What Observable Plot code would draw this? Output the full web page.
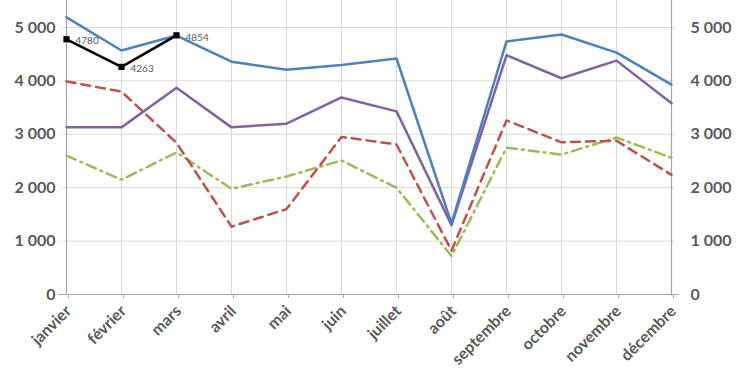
<!DOCTYPE html>
<html><head><meta charset="utf-8">
<script src="https://cdn.jsdelivr.net/npm/d3@7"></script>
<script src="https://cdn.jsdelivr.net/npm/@observablehq/plot@0.6"></script>
<style>body{margin:0;background:#fff}</style>
</head><body><div id="chart"></div>
<script>
const months = ["janvier","février","mars","avril","mai","juin","juillet","août","septembre","octobre","novembre","décembre"];
const blueVals = [5190,4570,4850,4360,4210,4300,4420,1330,4740,4870,4530,3930];
const purpleVals = [3130,3130,3870,3130,3200,3690,3430,1300,4480,4050,4380,3580];
const redVals = [3990,3800,2840,1270,1600,2950,2810,820,3260,2850,2880,2240];
const greenVals = [2600,2150,2660,1980,2210,2510,2000,720,2750,2620,2940,2560];
const blackMonths = ["janvier","février","mars"];
const blackVals = [4780,4263,4854];
const yTicks = [0,1000,2000,3000,4000,5000];
const yTickLabels = ["0","1 000","2 000","3 000","4 000","5 000"];

const toRows = vals => months.map((m,i)=>({m, v: vals[i]}));
const blackRows = blackMonths.map((m,i)=>({m, v: blackVals[i]}));
const fmt = d => yTickLabels[yTicks.indexOf(d)];
const font = "Lato, 'Liberation Sans', sans-serif";

const chart = Plot.plot({
  width: 750, height: 375,
  marginLeft: 63, marginRight: 76, marginTop: 0, marginBottom: 81,
  style: {fontFamily: font, background: "#fff"},
  x: {type: "point", domain: months, padding: 0},
  y: {domain: [0, 5506]},
  marks: [
    Plot.gridY(yTicks, {stroke: "#d9d9d9", strokeOpacity: 1}),
    Plot.gridX(months, {stroke: "#d9d9d9", strokeOpacity: 1}),
    Plot.ruleX([months[0], months[11]], {stroke: "#a6a6a6", strokeWidth: 1.2}),
    Plot.ruleY([0], {stroke: "#a6a6a6", strokeWidth: 1.2, insetLeft: -5, insetRight: -5}),
    Plot.axisY(yTicks, {anchor: "left", tickFormat: fmt, tickSize: 0, tickPadding: 8, fontSize: 16, fontWeight: "bold", fill: "#595959", label: null}),
    Plot.axisY(yTicks, {anchor: "right", tickFormat: fmt, tickSize: 0, tickPadding: 16, fontSize: 16, fontWeight: "bold", fill: "#595959", label: null}),
    Plot.axisX(months, {anchor: "bottom", tickSize: 4, stroke: "#a6a6a6", tickRotate: -45, tickPadding: 10, dx: 2, fontSize: 16, fontWeight: "bold", fill: "#595959", label: null}),
    Plot.line(toRows(greenVals), {x: "m", y: "v", stroke: "#9bbb59", strokeWidth: 2.5, strokeDasharray: "10,5,2,5"}),
    Plot.line(toRows(redVals), {x: "m", y: "v", stroke: "#c0504d", strokeWidth: 2.5, strokeDasharray: "9,6"}),
    Plot.line(toRows(purpleVals), {x: "m", y: "v", stroke: "#8064a2", strokeWidth: 2.5}),
    Plot.line(toRows(blueVals), {x: "m", y: "v", stroke: "#4f81bd", strokeWidth: 2.5}),
    Plot.line(blackRows, {x: "m", y: "v", stroke: "#000", strokeWidth: 2.5}),
    Plot.dot(blackRows, {x: "m", y: "v", symbol: "square", r: 3.5, fill: "#000"}),
    Plot.text(blackRows, {x: "m", y: "v", text: d => String(d.v), dx: 9, dy: 2, textAnchor: "start", fontSize: 10, fill: "#595959"})
  ]
});
document.getElementById("chart").appendChild(chart);
</script>
</body></html>
